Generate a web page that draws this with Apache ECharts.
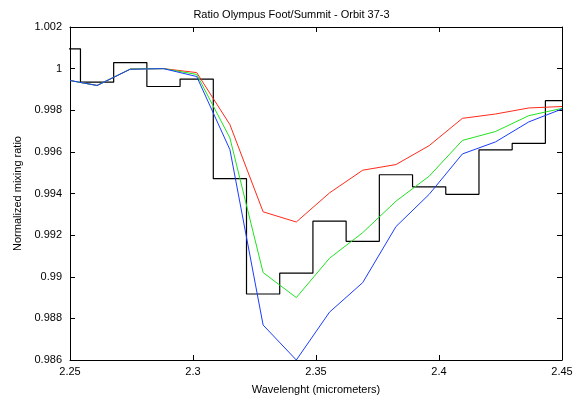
<!DOCTYPE html>
<html><head><meta charset="utf-8">
<script src="https://cdn.jsdelivr.net/npm/echarts@6/dist/echarts.min.js"></script>
<style>html,body{margin:0;padding:0;background:#fff}#c{width:583px;height:400px}</style>
</head><body><div id="c"></div>
<script>
var wave = [2.25, 2.261, 2.2745, 2.288, 2.3015, 2.315, 2.3285, 2.342, 2.3555, 2.369, 2.3825, 2.396, 2.4095, 2.423, 2.4365, 2.45];
var red = [0.99943, 0.99919, 0.99998, 1.0, 0.99981, 0.99731, 0.99312, 0.99263, 0.99403, 0.99512, 0.99539, 0.9963, 0.99761, 0.99782, 0.99811, 0.99818];
var green = [0.99943, 0.99919, 0.99998, 1.0, 0.99972, 0.99667, 0.9902, 0.989, 0.99089, 0.99212, 0.99363, 0.99483, 0.99655, 0.99698, 0.99774, 0.99809];
var blue = [0.99943, 0.99919, 0.99997, 1.0, 0.99962, 0.99611, 0.98768, 0.986, 0.9883, 0.98972, 0.99241, 0.99396, 0.9959, 0.99648, 0.99744, 0.99806];
var stepWave = [2.2475, 2.261, 2.2745, 2.288, 2.3015, 2.315, 2.3285, 2.342, 2.3555, 2.369, 2.3825, 2.396, 2.4095, 2.423, 2.4365, 2.45];
var measured = [1.00095, 0.99935, 1.00029, 0.99914, 0.9995, 0.99471, 0.98917, 0.99017, 0.99267, 0.9917, 0.9949, 0.99432, 0.99396, 0.9961, 0.99641, 0.99846];

function pairs(xs, ys) { return xs.map(function (x, i) { return [x, ys[i]]; }); }
var font = 'Liberation Sans, Arial, sans-serif';
var chart = echarts.init(document.getElementById('c'));
var axisBase = {
  axisLine: { show: true, lineStyle: { color: '#000', width: 1 } },
  axisTick: { show: true, inside: true, length: 5, lineStyle: { color: '#000' } },
  splitLine: { show: false }
};
chart.setOption({
  animation: false,
  title: { text: 'Ratio Olympus Foot/Summit - Orbit 37-3', left: 'center', top: 4,
    textStyle: { fontSize: 11, fontWeight: 'normal', color: '#000', fontFamily: font } },
  grid: { left: 70, right: 21, top: 27, bottom: 39 },
  xAxis: [
    Object.assign({ type: 'value', min: 2.25, max: 2.45, interval: 0.05, name: 'Wavelenght (micrometers)',
      nameLocation: 'middle', nameGap: 24, nameTextStyle: { fontSize: 11, color: '#000', fontFamily: font },
      axisLabel: { fontSize: 11, color: '#000', fontFamily: font, margin: 6,
        formatter: function (v) { return v.toFixed(2).replace(/0$/, '').replace(/\.$/, ''); } } }, axisBase),
    Object.assign({ type: 'value', position: 'top', min: 2.25, max: 2.45, interval: 0.05, axisLabel: { show: false } }, axisBase)
  ],
  yAxis: [
    Object.assign({ type: 'value', min: 0.986, max: 1.002, interval: 0.002, name: 'Normalized mixing ratio',
      nameLocation: 'middle', nameGap: 46, nameTextStyle: { fontSize: 11, color: '#000', fontFamily: font },
      axisLabel: { fontSize: 11, color: '#000', fontFamily: font,
        formatter: function (v) { return String(+v.toFixed(3)); } } }, axisBase),
    Object.assign({ type: 'value', position: 'right', min: 0.986, max: 1.002, interval: 0.002, axisLabel: { show: false } }, axisBase)
  ],
  series: [
    { type: 'line', data: pairs(stepWave, measured), step: 'middle', symbol: 'none', clip: true,
      lineStyle: { color: '#000', width: 1.2 } },
    { type: 'line', data: pairs(wave, red), symbol: 'none', lineStyle: { color: '#ff2a1a', width: 1 } },
    { type: 'line', data: pairs(wave, green), symbol: 'none', lineStyle: { color: '#1ee31e', width: 1 } },
    { type: 'line', data: pairs(wave, blue), symbol: 'none', lineStyle: { color: '#1a3cff', width: 1 } }
  ]
});
</script></body></html>
